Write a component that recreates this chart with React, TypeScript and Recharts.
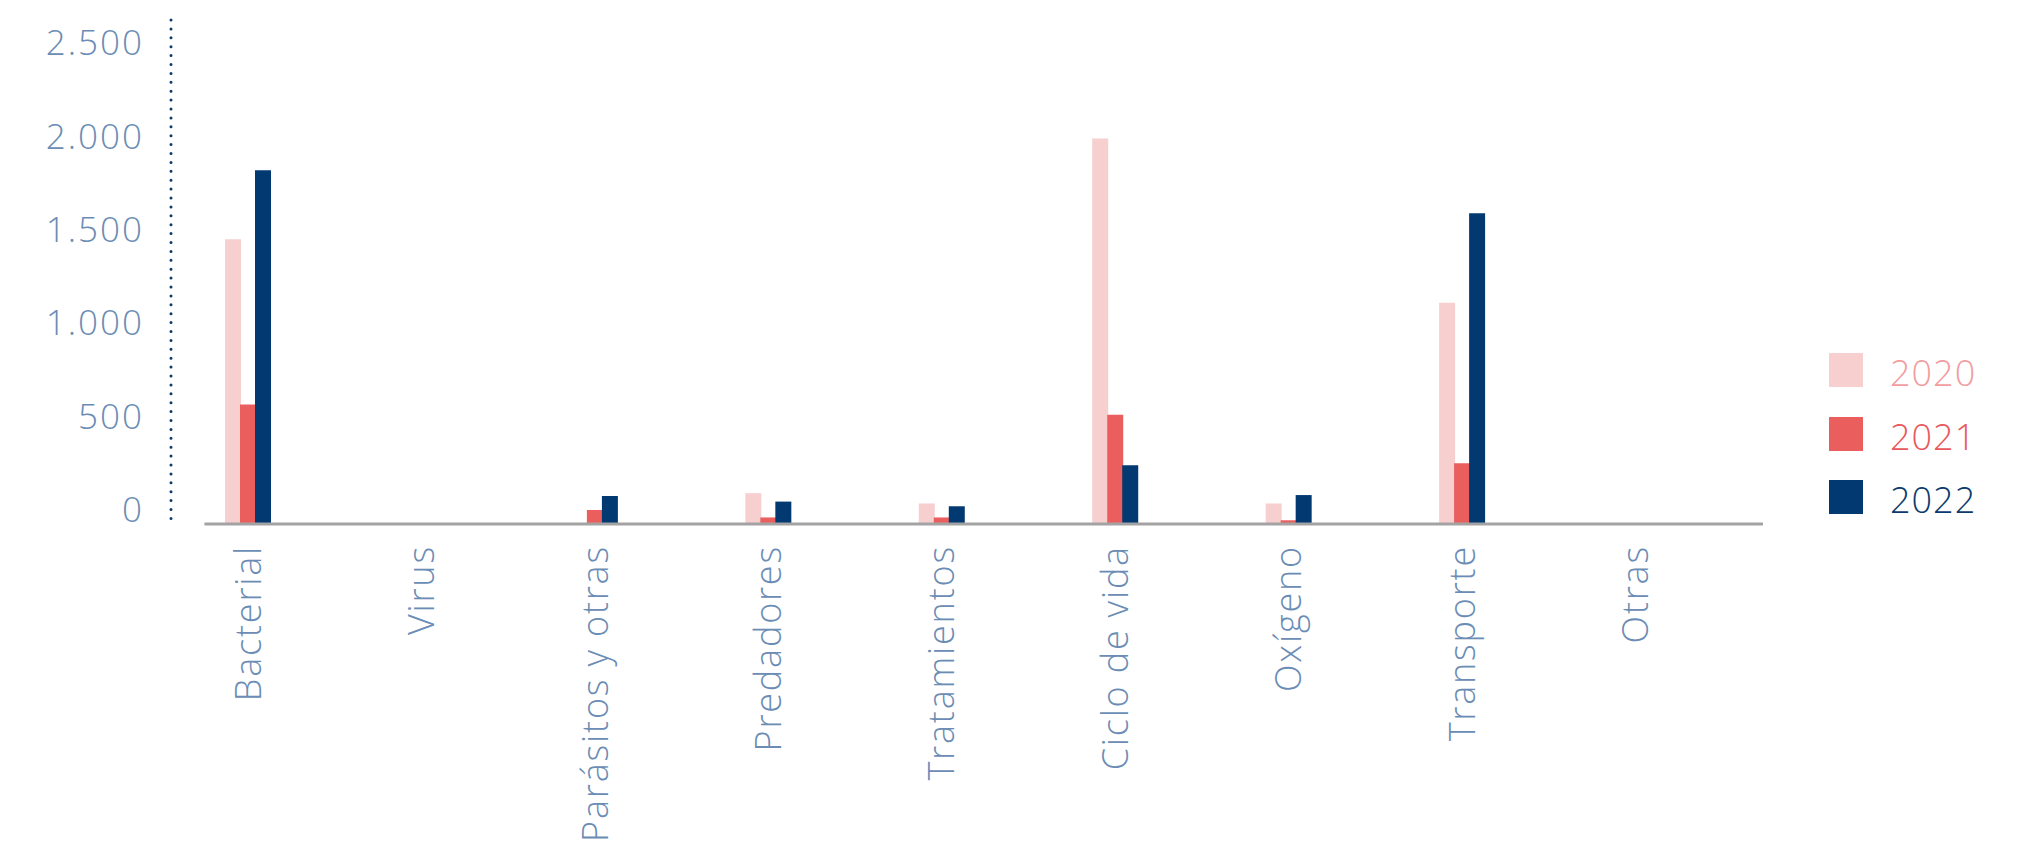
import { Bar, BarChart, Legend, ReferenceLine, XAxis, YAxis } from 'recharts';

// categories and yearly values
const categories = [
  'Bacterial',
  'Virus',
  'Parásitos y otras',
  'Predadores',
  'Tratamientos',
  'Ciclo de vida',
  'Oxígeno',
  'Transporte',
  'Otras',
];
const v2020 = [1525, 0, 0, 165, 110, 2065, 110, 1185, 0];
const v2021 = [640, 0, 75, 35, 35, 585, 20, 325, 0];
const v2022 = [1895, 0, 150, 120, 95, 315, 155, 1665, 0];
const yTicks = [0, 500, 1000, 1500, 2000, 2500];

const series = [
  { key: 'y2020', label: '2020', color: '#f7cfcf', text: '#f29d9f' },
  { key: 'y2021', label: '2021', color: '#eb5e5e', text: '#e9585c' },
  { key: 'y2022', label: '2022', color: '#023970', text: '#0b3a6d' },
];

const data = categories.map((name, i) => ({
  name,
  y2020: v2020[i],
  y2021: v2021[i],
  y2022: v2022[i],
}));

const FONT = "'Open Sans', 'DejaVu Sans', sans-serif";
const LABEL = '#6b8cb4';

// hidden index axis, used only to place the grey baseline
const BASE_MAX = categories.length - 1;

const fmt = (v: number) => String(v).replace(/\B(?=(\d{3})+(?!\d))/g, '.');

function YTick(props: any) {
  const { x, y, payload } = props;
  return (
    <text
      x={x}
      y={y}
      dy={-2}
      textAnchor="end"
      fill={LABEL}
      fontFamily={FONT}
      fontWeight={300}
      fontSize={35}
      letterSpacing={2}
    >
      {fmt(payload.value)}
    </text>
  );
}

function XTick(props: any) {
  const { x, y, payload } = props;
  return (
    <g transform={'translate(' + x + ',' + y + ')'}>
      <text
        transform="rotate(-90)"
        textAnchor="end"
        dy="0.36em"
        fill={LABEL}
        fontFamily={FONT}
        fontWeight={300}
        fontSize={36}
        letterSpacing={1.8}
      >
        {payload.value}
      </text>
    </g>
  );
}

function LegendBox() {
  return (
    <div style={{ fontFamily: FONT }}>
      {series.map((s) => (
        <div
          key={s.key}
          style={{ display: 'flex', alignItems: 'center', height: 34, marginBottom: 29.5 }}
        >
          <div style={{ width: 34, height: 34, background: s.color }} />
          <span
            style={{
              marginLeft: 27,
              fontSize: 36,
              fontWeight: 300,
              letterSpacing: 1,
              color: s.text,
              lineHeight: '34px',
              position: 'relative',
              top: 3,
            }}
          >
            {s.label}
          </span>
        </div>
      ))}
    </div>
  );
}

export default function App() {
  return (
    <div style={{ position: 'absolute', left: 0, top: 0, background: '#fff' }}>
      <BarChart
        width={2029}
        height={845}
        data={data}
        margin={{ top: 20, right: 266, bottom: 0, left: 0 }}
        barSize={16}
        barGap={-1}
      >
        <XAxis
          dataKey="name"
          interval={0}
          height={321}
          tickSize={0}
          tickMargin={21}
          axisLine={false}
          tickLine={false}
          padding={{ left: -10, right: 41 }}
          tick={<XTick />}
        />
        <XAxis
          xAxisId="base"
          type="number"
          domain={[0, BASE_MAX]}
          allowDataOverflow
          hide
        />
        <YAxis
          width={171}
          domain={[0, 2700]}
          ticks={yTicks}
          tickSize={0}
          tickMargin={27}
          tickLine={false}
          axisLine={{
            stroke: '#0d3a6b',
            strokeWidth: 3,
            strokeDasharray: '0 8.9',
            strokeLinecap: 'round',
          }}
          tick={<YTick />}
        />
        <Legend
          layout="vertical"
          align="center"
          verticalAlign="middle"
          wrapperStyle={{ left: 1829, top: 353, width: 160 }}
          content={<LegendBox />}
        />
        {series.map((s) => (
          <Bar
            key={s.key}
            dataKey={s.key}
            name={s.label}
            fill={s.color}
            isAnimationActive={false}
          />
        ))}
        <ReferenceLine
          xAxisId="base"
          ifOverflow="visible"
          segment={[
            { x: BASE_MAX * 0.021, y: 0 },
            { x: BASE_MAX, y: 0 },
          ]}
          stroke="#a3a3a3"
          strokeWidth={3}
        />
      </BarChart>
    </div>
  );
}
